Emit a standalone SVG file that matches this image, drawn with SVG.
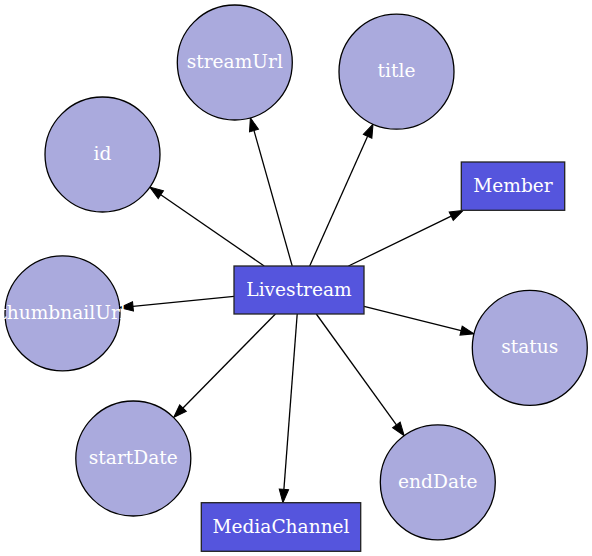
<svg xmlns="http://www.w3.org/2000/svg" width="592" height="556" viewBox="0 0 592 556">
<defs>
<style>
.attr circle{fill:#aaaadd;stroke:#000;stroke-width:1.3}
.ent rect{fill:#5555dd;stroke:#222;stroke-width:1.3}
text{font-family:"DejaVu Serif","Liberation Serif",serif;font-size:18.6px;fill:#fff;text-anchor:middle}
#edges path{stroke:#000;stroke-width:1.3;fill:none;marker-end:url(#arr)}
</style>
<marker id="arr" markerUnits="userSpaceOnUse" markerWidth="14" markerHeight="10" refX="0" refY="4.67" orient="auto" overflow="visible">
<path d="M0,0 L13.33,4.67 L0,9.33 z" fill="#000" stroke="#000" stroke-width="1"/>
</marker>
</defs>
<rect width="592" height="556" fill="#fff"/>
<g id="edges">
<path d="M264.2,266 L160.8,194.7"/>
<path d="M292.2,266 L254.0,130.6"/>
<path d="M309.7,266 L367.6,136.3"/>
<path d="M348.5,266 L451.2,216.2"/>
<path d="M234,296.4 L133.0,306.4"/>
<path d="M364,306.3 L461.1,330.6"/>
<path d="M275.4,314 L183.0,408.0"/>
<path d="M316.3,314 L396.4,424.9"/>
<path d="M297.2,314 L283.9,489.4"/>
</g>
<g id="Livestream" class="ent"><rect x="234" y="266" width="130" height="48"/><text x="299" y="295.5">Livestream</text></g>
<g id="Member" class="ent"><rect x="461.3" y="162" width="103.4" height="48.3"/><text x="513" y="191.5">Member</text></g>
<g id="MediaChannel" class="ent"><rect x="201.3" y="502.7" width="159.4" height="48.6"/><text x="281" y="532.5">MediaChannel</text></g>
<g id="streamUrl" class="attr"><circle cx="234.8" cy="62.5" r="57.5"/><text x="234.8" y="68">streamUrl</text></g>
<g id="title" class="attr"><circle cx="396.5" cy="71.7" r="57.5"/><text x="396.5" y="77.2">title</text></g>
<g id="id" class="attr"><circle cx="102.5" cy="154.5" r="57.5"/><text x="102.5" y="160">id</text></g>
<g id="thumbnailUrl" class="attr"><circle cx="62.5" cy="313.3" r="57.5"/><text x="62.5" y="318.8">thumbnailUrl</text></g>
<g id="status" class="attr"><circle cx="529.8" cy="347.8" r="57.5"/><text x="529.8" y="353.3">status</text></g>
<g id="startDate" class="attr"><circle cx="133.3" cy="458.5" r="57.5"/><text x="133.3" y="464">startDate</text></g>
<g id="endDate" class="attr"><circle cx="437.8" cy="482.3" r="57.5"/><text x="437.8" y="487.8">endDate</text></g>
</svg>
